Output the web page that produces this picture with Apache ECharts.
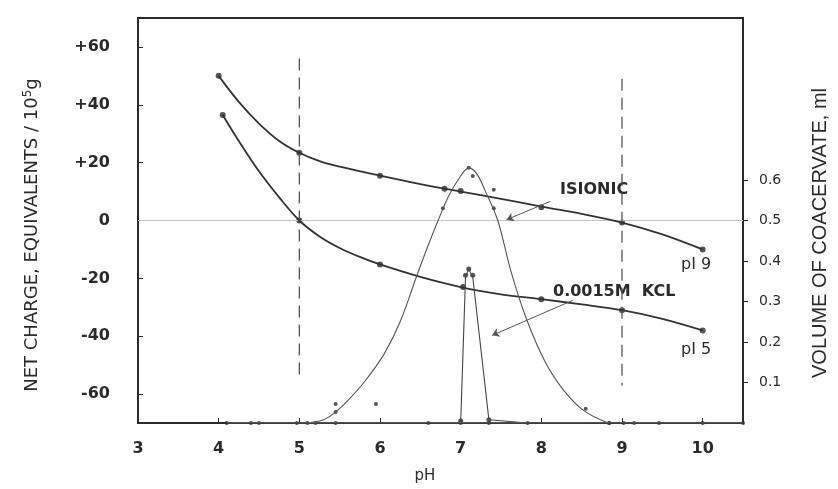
<!DOCTYPE html>
<html>
<head>
    <meta charset="utf-8">
    <title>Net charge and coacervate volume vs pH</title>
    <script src="https://cdn.jsdelivr.net/npm/echarts@6/dist/echarts.min.js"></script>
    <style>
        html, body { margin: 0; padding: 0; background: #fff; }
    </style>
</head>
<body>
    <div id="main" style="width: 838px;height:489px;"></div>
    <script type="text/javascript">
        // charge curves (left axis)
        var isionicCurve = [[4,50],[4.25,41],[4.5,33.5],[4.75,27.5],[5,23.4],[5.25,20.5],[5.5,18.6],[6,15.5],[6.5,12.6],[7,10],[7.5,7.5],[8,4.8],[8.5,2.3],[9,-0.7],[9.5,-4.8],[10,-10]];
        var isionicPts = [[4,50],[5,23.4],[6,15.5],[6.8,11],[7,10.2],[8,4.6],[9,-0.7],[10,-10]];
        var kclCurve = [[4.05,36.5],[4.25,27.5],[4.5,17],[4.75,8],[5,0],[5.25,-5.5],[5.5,-9.5],[5.75,-12.6],[6,-15.2],[6.5,-19.5],[7,-23],[7.5,-25.5],[8,-27.2],[8.5,-29],[9,-31],[9.5,-34],[10,-38]];
        var kclPts = [[4.05,36.5],[5,0],[6,-15.2],[7.03,-23],[8,-27.2],[9,-31],[10,-38]];

        // coacervate volume (right axis)
        var isionicVol = [[5.1,0],[5.3,0.008],[5.45,0.027],[5.6,0.055],[5.82,0.105],[6.05,0.17],[6.25,0.25],[6.45,0.36],[6.6,0.44],[6.72,0.5],[6.85,0.56],[7.0,0.61],[7.1,0.63],[7.2,0.615],[7.3,0.575],[7.46,0.5],[7.62,0.377],[7.81,0.26],[8.05,0.15],[8.28,0.08],[8.53,0.03],[8.83,0]];
        var isionicVolPts = [[5.2,0],[5.45,0.027],[5.45,0.047],[5.95,0.047],[6.78,0.53],[7.1,0.63],[7.15,0.61],[7.41,0.576],[7.41,0.53],[8.55,0.035],[8.84,0]];
        var kclVol = [[7.0,0],[7.06,0.36],[7.1,0.38],[7.15,0.36],[7.35,0.008],[7.83,0]];
        var kclVolPts = [[7.0,0.005],[7.06,0.365],[7.1,0.38],[7.15,0.365],[7.35,0.008]];
        var baseline = [[4.1,0],[4.4,0],[4.5,0],[4.97,0],[5.1,0],[5.45,0],[6.6,0],[7.0,0],[7.35,0],[7.83,0],[8.84,0],[9.02,0],[9.15,0],[9.46,0],[10,0],[10.5,0]];

        // guide lines
        var zeroLine = [[3,0],[10.5,0]];
        var dash5 = [[5,56],[5,-54]];
        var dash9 = [[9,49],[9,-57]];

        var leftTicks = [-60,-40,-20,0,20,40,60];
        var rightTicks = [0.1,0.2,0.3,0.4,0.5,0.6];

        var myChart = echarts.init(document.getElementById('main'));
        var ink = '#2a2a2a';
        var labelFont = 'DejaVu Sans';

        function thinLine(data, axis, extra) {
            var s = {
                type: 'line', data: data, yAxisIndex: axis, symbol: 'none', silent: true,
                lineStyle: { color: '#555', width: 1 }, animation: false
            };
            for (var k in extra) s[k] = extra[k];
            return s;
        }
        function dots(data, axis, size) {
            return {
                type: 'scatter', data: data, yAxisIndex: axis, symbolSize: size, silent: true,
                itemStyle: { color: ink }, animation: false
            };
        }

        myChart.setOption({
            animation: false,
            grid: { left: 138, right: 95, top: 18, bottom: 66, show: true, borderColor: ink, borderWidth: 2 },
            xAxis: {
                type: 'value', min: 3, max: 10.5, interval: 1,
                axisLine: { onZero: false, lineStyle: { color: ink, width: 2 } },
                axisTick: { inside: true, length: 5, lineStyle: { color: ink } },
                splitLine: { show: false },
                axisLabel: {
                    margin: 18, fontSize: 16, fontWeight: 'bold', color: ink, fontFamily: labelFont,
                    formatter: function (v) { return v % 1 === 0 ? String(v) : ''; }
                }
            },
            yAxis: [{
                type: 'value', min: -70, max: 70,
                axisLine: { show: true, lineStyle: { color: ink, width: 2 } },
                axisTick: { show: true, inside: true, length: 5, customValues: leftTicks, lineStyle: { color: ink } },
                splitLine: { show: false },
                axisLabel: {
                    customValues: leftTicks, margin: 28, fontSize: 16, fontWeight: 'bold', color: ink, fontFamily: labelFont,
                    formatter: function (v) { return v > 0 ? '+' + v : String(v); }
                }
            }, {
                type: 'value', min: 0, max: 1, position: 'right',
                axisLine: { show: true, lineStyle: { color: ink, width: 2 } },
                axisTick: { show: true, length: 5, customValues: rightTicks, lineStyle: { color: ink } },
                splitLine: { show: false },
                axisLabel: {
                    customValues: rightTicks, margin: 16, fontSize: 14, color: ink, fontFamily: labelFont,
                    formatter: function (v) { return v.toFixed(1); }
                }
            }],
            series: [
                thinLine(zeroLine, 0, { lineStyle: { color: '#c4c4c4', width: 1 } }),
                thinLine(dash5, 0, { lineStyle: { color: '#555', width: 1.3, type: [12, 7] } }),
                thinLine(dash9, 0, { lineStyle: { color: '#555', width: 1.3, type: [12, 7] } }),
                thinLine(isionicCurve, 0, { smooth: 0.35, lineStyle: { color: '#333', width: 1.8 } }),
                dots(isionicPts, 0, 6),
                thinLine(kclCurve, 0, { smooth: 0.35, lineStyle: { color: '#333', width: 1.8 } }),
                dots(kclPts, 0, 6),
                thinLine(isionicVol, 1, { smooth: 0.35, lineStyle: { color: '#555', width: 1.1 } }),
                dots(isionicVolPts, 1, 4),
                thinLine(kclVol, 1, { lineStyle: { color: '#444', width: 1.1 } }),
                dots(kclVolPts, 1, 5),
                thinLine(baseline, 1, { lineStyle: { color: '#777', width: 1 } }),
                dots(baseline, 1, 4),
                {
                    type: 'line', data: [], silent: true,
                    markLine: {
                        silent: true, symbol: ['none', 'arrow'], symbolSize: 7, label: { show: false },
                        lineStyle: { color: '#555', width: 1, type: 'solid' },
                        data: [
                            [{ coord: [8.11, 6.6] }, { coord: [7.57, 0.3] }],
                            [{ coord: [8.39, -27.6] }, { coord: [7.39, -39.7] }]
                        ]
                    }
                }
            ],
            graphic: [
                { type: 'text', x: 560, y: 190, style: { text: 'ISIONIC', fontSize: 16, fontWeight: 'bold', fontFamily: labelFont, fill: ink, verticalAlign: 'middle' } },
                { type: 'text', x: 681, y: 265, style: { text: 'pI 9', fontSize: 16, fontFamily: labelFont, fill: ink, verticalAlign: 'middle' } },
                { type: 'text', x: 553, y: 292, style: { text: '0.0015M  KCL', fontSize: 16, fontWeight: 'bold', fontFamily: labelFont, fill: ink, verticalAlign: 'middle' } },
                { type: 'text', x: 681, y: 350, style: { text: 'pI 5', fontSize: 16, fontFamily: labelFont, fill: ink, verticalAlign: 'middle' } },
                { type: 'text', x: 425, y: 476, style: { text: 'pH', fontSize: 15, fontFamily: labelFont, fill: ink, align: 'center', verticalAlign: 'middle' } },
                {
                    type: 'text', x: 32, y: 235, rotation: Math.PI / 2,
                    style: {
                        text: 'NET CHARGE, EQUIVALENTS / 10{sup|5}g', fontSize: 18, fontFamily: labelFont, fill: ink,
                        align: 'center', verticalAlign: 'middle',
                        rich: { sup: { fontSize: 12, verticalAlign: 'top', padding: [0, 0, 9, 0], fill: ink, fontFamily: labelFont } }
                    }
                },
                {
                    type: 'text', x: 820, y: 233, rotation: Math.PI / 2,
                    style: { text: 'VOLUME OF COACERVATE, ml', fontSize: 20, fontFamily: 'Liberation Sans', fill: ink, align: 'center', verticalAlign: 'middle' }
                }
            ]
        });
    </script>
</body>
</html>
